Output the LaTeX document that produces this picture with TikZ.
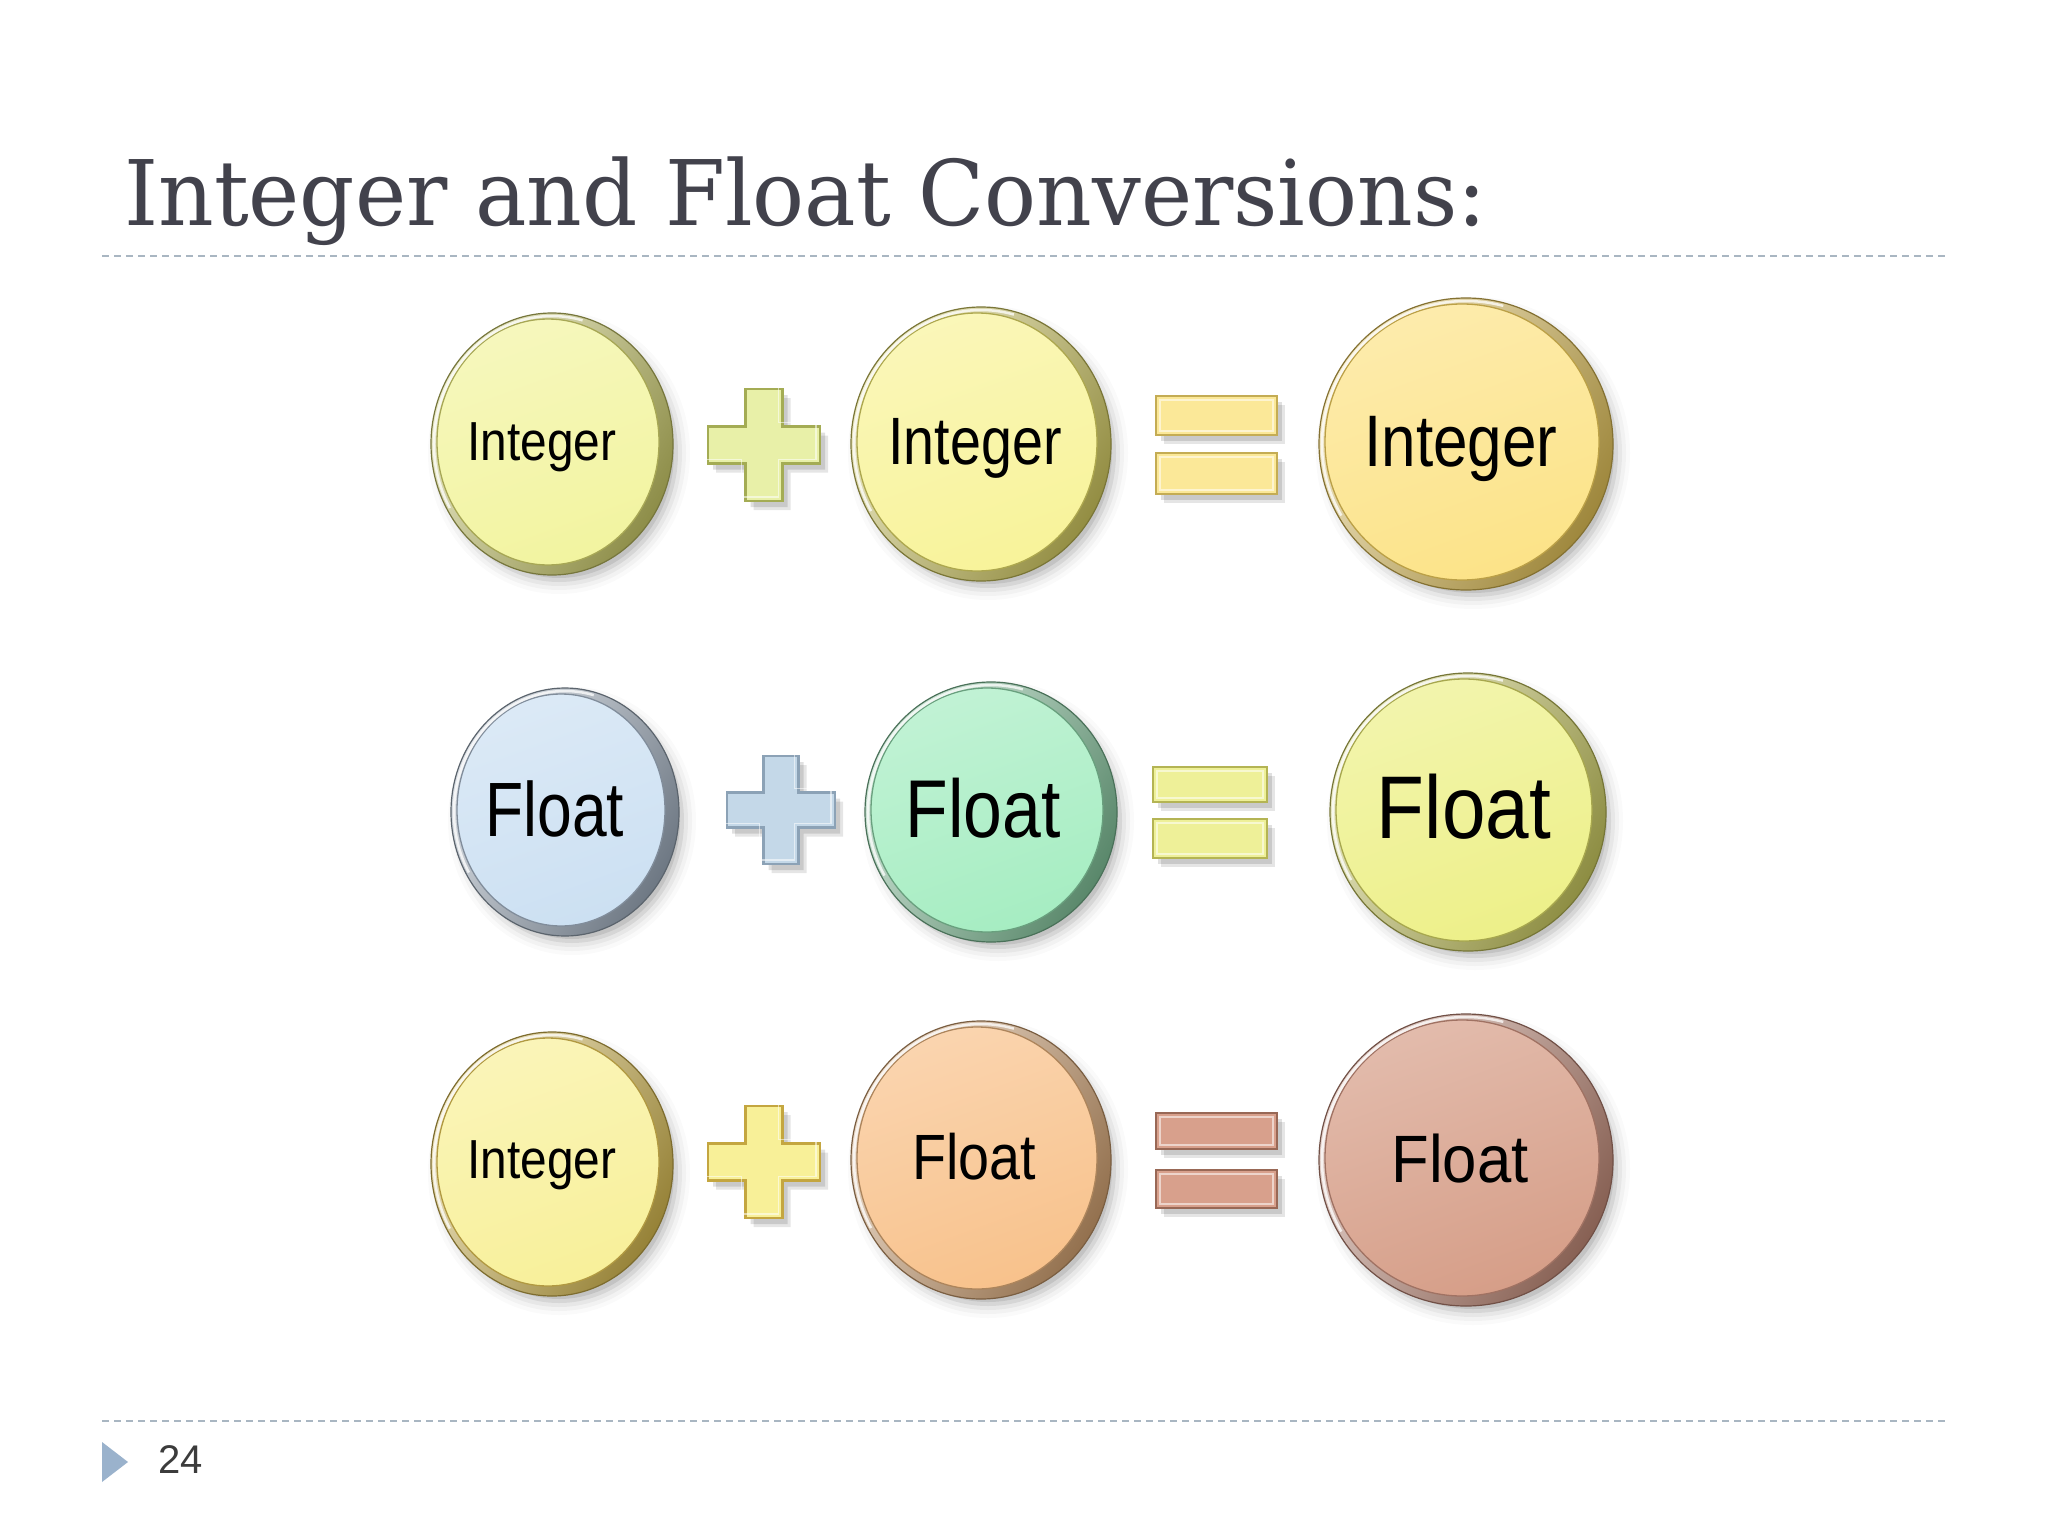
\documentclass[tikz,border=0pt]{standalone}
\usepackage{fontspec}
\setmainfont{Liberation Sans}
\newfontfamily\titlefont{DejaVu Serif}
\usetikzlibrary{shapes.geometric}
\definecolor{titlegray}{HTML}{42424C}
\definecolor{dashgray}{HTML}{A9B6C2}
\definecolor{tricol}{HTML}{9AB2CC}
\definecolor{pagegray}{HTML}{3C3C3C}
% coin colours
\definecolor{fA}{HTML}{F2F4A0}\definecolor{rA}{HTML}{C4C464}
\definecolor{fB}{HTML}{F8F39A}\definecolor{rB}{HTML}{CCC45C}
\definecolor{fC}{HTML}{FCE388}\definecolor{rC}{HTML}{DCBC54}
\definecolor{fD}{HTML}{CCE0F2}\definecolor{rD}{HTML}{98A6B6}
\definecolor{fE}{HTML}{A6EDC2}\definecolor{rE}{HTML}{7CBC94}
\definecolor{fF}{HTML}{EDF089}\definecolor{rF}{HTML}{C4C45C}
\definecolor{fG}{HTML}{F8F09A}\definecolor{rG}{HTML}{D0B44C}
\definecolor{fH}{HTML}{F8C28C}\definecolor{rH}{HTML}{CC9C6C}
\definecolor{fI}{HTML}{D69E88}\definecolor{rI}{HTML}{BC8674}
% operator colours
\definecolor{pA}{HTML}{E8F0A8}\definecolor{pAb}{HTML}{A4AC54}
\definecolor{pB}{HTML}{C4D8E8}\definecolor{pBb}{HTML}{8CA2B6}
\definecolor{pC}{HTML}{F8F098}\definecolor{pCb}{HTML}{C4A640}
\definecolor{eA}{HTML}{FBE898}\definecolor{eAb}{HTML}{C4AC54}
\definecolor{eB}{HTML}{EEF098}\definecolor{eBb}{HTML}{B4B454}
\definecolor{eC}{HTML}{D8A08C}\definecolor{eCb}{HTML}{986856}
\tikzset{
  lbl/.style={anchor=base, inner sep=0pt, text=black},
  dashline/.style={draw=dashgray, line width=2pt, dash pattern=on 7pt off 5pt},
}
% coin: name, x, y, rx, ry, face, rim
\newcommand\coin[7]{%
  \foreach \s/\o in {0/0.09,4/0.065,8/0.045,12/0.03,16/0.018}{%
    \fill[black,opacity=\o] (#2+7,#3+9) ellipse ({#4+\s-6} and {#5+\s-6});}%
  \node[ellipse, inner sep=0pt, minimum width={2*#4}, minimum height={2*#5},
        draw=#7!60!black, line width=1.2pt, top color=#7!35!white,
        bottom color=#7!72!black, shading angle=60] (#1) at (#2,#3) {};%
  \path[draw=#7!85!black, line width=1.3pt, top color=#6!70!white, bottom color=#6,
        shading angle=20] (#2-4,#3-2) ellipse ({#4-10} and {#5-8});%
  \draw[white, opacity=0.75, line width=2.5pt] (#2,#3) ++(150:{#4-3} and {#5-3})
        arc[start angle=150, end angle=285, x radius={#4-3}, y radius={#5-3}];%
}
% cross: options, cx, cy, half size, half arm
\newcommand\crossshape[5]{%
  \path[#1] (#2-#5,#3-#4) -- (#2+#5,#3-#4) -- (#2+#5,#3-#5) -- (#2+#4,#3-#5)
    -- (#2+#4,#3+#5) -- (#2+#5,#3+#5) -- (#2+#5,#3+#4) -- (#2-#5,#3+#4)
    -- (#2-#5,#3+#5) -- (#2-#4,#3+#5) -- (#2-#4,#3-#5) -- (#2-#5,#3-#5) -- cycle;}
% plus: cx, cy, half size, half arm, fill, border
\newcommand\plusmark[6]{%
  \crossshape{fill=black,opacity=0.10}{#1+8}{#2+9}{#3}{#4}%
  \crossshape{fill=black,opacity=0.12}{#1+5}{#2+6}{#3}{#4}%
  \crossshape{fill=#5, draw=#6, line width=2.5pt, line join=miter}{#1}{#2}{#3}{#4}%
  \crossshape{draw=white, opacity=0.55, line width=1.5pt, line join=miter}{#1}{#2}{#3-4}{#4-4}%
}
% bar: x1, y1, x2, y2, fill, border
\newcommand\eqbar[6]{%
  \fill[black,opacity=0.10] (#1+8,#2+9) rectangle (#3+8,#4+9);%
  \fill[black,opacity=0.12] (#1+5,#2+6) rectangle (#3+5,#4+6);%
  \filldraw[fill=#5, draw=#6, line width=2.5pt] (#1,#2) rectangle (#3,#4);%
  \draw[white, opacity=0.55, line width=1.5pt] (#1+4,#2+4) rectangle (#3-4,#4-4);%
}
\begin{document}
\begin{tikzpicture}[x=1pt,y=-1pt]
\useasboundingbox (0,0) rectangle (2048,1536);
\fill[white] (0,0) rectangle (2048,1536);

% title
\node[anchor=base west, inner sep=0pt, text=titlegray,
      font=\titlefont\fontsize{90.5}{100}\selectfont] (title) at (124,225)
      {\scalebox{0.955}[1]{Integer and Float Conversions:}};
\coordinate (tl) at (102,256); \coordinate (tr) at (1946,256);
\draw[dashline] (tl) -- (tr);
\coordinate (bl) at (102,1421); \coordinate (br) at (1946,1421);
\draw[dashline] (bl) -- (br);

% footer
\fill[tricol] (102,1442) -- (102,1482) -- (128,1462) -- cycle;
\node[anchor=base west, inner sep=0pt, text=pagegray,
      font=\fontsize{40}{44}\selectfont] (page) at (158,1473) {24};

% row 1
\coin{c1}{552}{444}{121}{131}{fA}{rA}
\coin{c2}{981}{444}{130}{137}{fB}{rB}
\coin{c3}{1466}{444}{147}{146}{fC}{rC}
\plusmark{764}{445}{56}{18.5}{pA}{pAb}
\eqbar{1156}{396}{1277}{435}{eA}{eAb}
\eqbar{1156}{453}{1277}{494}{eA}{eAb}
\node[lbl, font=\fontsize{55}{60}\selectfont] (c1t) at (542,460) {\scalebox{0.87}[1]{Integer}};
\node[lbl, font=\fontsize{67}{72}\selectfont] (c2t) at (975,464) {\scalebox{0.83}[1]{Integer}};
\node[lbl, font=\fontsize{73}{78}\selectfont] (c3t) at (1461,466) {\scalebox{0.85}[1]{Integer}};

% row 2
\coin{c4}{565}{812}{114}{124}{fD}{rD}
\coin{c5}{991}{812}{126}{130}{fE}{rE}
\coin{c6}{1468}{812}{138}{139}{fF}{rF}
\plusmark{781}{810}{54}{17.5}{pB}{pBb}
\eqbar{1153}{767}{1267}{802}{eB}{eBb}
\eqbar{1153}{819}{1267}{858}{eB}{eBb}
\node[lbl, font=\fontsize{77}{82}\selectfont] (c4t) at (555,836) {\scalebox{0.81}[1]{Float}};
\node[lbl, font=\fontsize{82}{88}\selectfont] (c5t) at (983,837) {\scalebox{0.85}[1]{Float}};
\node[lbl, font=\fontsize{89}{95}\selectfont] (c6t) at (1464,838) {\scalebox{0.88}[1]{Float}};

% row 3
\coin{c7}{552}{1164}{121}{132}{fG}{rG}
\coin{c8}{981}{1160}{130}{139}{fH}{rH}
\coin{c9}{1466}{1160}{147}{146}{fI}{rI}
\plusmark{764}{1162}{56}{18.5}{pC}{pCb}
\eqbar{1156}{1113}{1277}{1149}{eC}{eCb}
\eqbar{1156}{1170}{1277}{1208}{eC}{eCb}
\node[lbl, font=\fontsize{55}{60}\selectfont] (c7t) at (542,1178) {\scalebox{0.87}[1]{Integer}};
\node[lbl, font=\fontsize{64}{70}\selectfont] (c8t) at (974,1179) {\scalebox{0.87}[1]{Float}};
\node[lbl, font=\fontsize{67}{72}\selectfont] (c9t) at (1460,1182) {\scalebox{0.92}[1]{Float}};
\end{tikzpicture}
\end{document}
